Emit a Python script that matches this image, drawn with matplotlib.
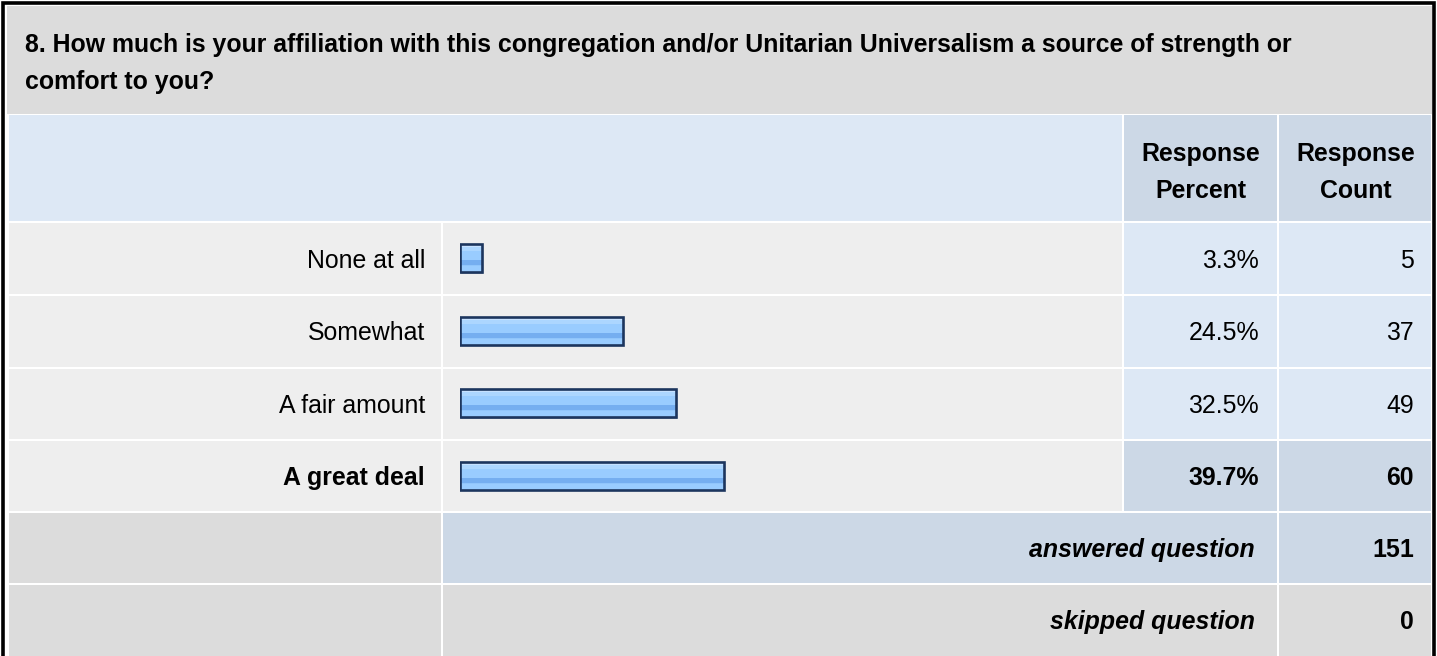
import numpy as np
import matplotlib.pyplot as plt
from matplotlib.patches import Rectangle
from matplotlib.colors import to_rgb

plt.rcParams['font.family'] = ['Liberation Sans', 'DejaVu Sans']

# Данные опроса
question = ('8. How much is your affiliation with this congregation and/or Unitarian Universalism a source of strength or\n'
            'comfort to you?')
categories = ['None at all', 'Somewhat', 'A fair amount', 'A great deal']
percents = [3.3, 24.5, 32.5, 39.7]
counts = [5, 37, 49, 60]
answered = 151
skipped = 0

# Цвета таблицы
GRAY = '#dcdcdc'
ROW_BG = '#eeeeee'
LIGHT_BLUE = '#dde8f5'
MID_BLUE = '#ccd8e6'
BORDER = '#1c355e'

W, H = 1437, 656
fs = 17.9

fig = plt.figure(figsize=(W / 100, H / 100), dpi=100)
fig.patch.set_facecolor('white')
ax = fig.add_axes([0, 0, 1, 1])
ax.set_xlim(0, W)
ax.set_ylim(H, 0)
ax.axis('off')


def cell(x0, y0, x1, y1, color):
    ax.add_patch(Rectangle((x0 + 1, y0 + 1), x1 - x0 - 2, y1 - y0 - 2,
                           facecolor=color, edgecolor='none', zorder=1))


# Колонки и строки таблицы (пиксели)
x_left, x_lab, x_pct, x_cnt, x_right = 8, 442, 1123, 1278, 1432
y_title, y_head, y_rows = 5, 114, [222, 295, 368, 440, 512]
y_ans, y_skip, y_end = 512, 584, 660

# Внешняя рамка
ax.plot([3, 3, W - 3, W - 3], [H + 5, 3, 3, H + 5], color='black', lw=2.6, zorder=5,
        solid_joinstyle='miter')

# Заголовок вопроса
cell(x_left - 2, y_title, x_right + 1, y_head + 1, GRAY)
ax.text(25, 52, question.split('\n')[0], fontsize=fs, fontweight='bold', va='baseline', zorder=3)
ax.text(25, 89, question.split('\n')[1], fontsize=fs, fontweight='bold', va='baseline', zorder=3)

# Шапка
cell(x_left, y_head, x_pct, y_rows[0], LIGHT_BLUE)
cell(x_pct, y_head, x_cnt, y_rows[0], MID_BLUE)
cell(x_cnt, y_head, x_right, y_rows[0], MID_BLUE)
ax.text((x_pct + x_cnt) / 2, 161, 'Response', fontsize=fs, fontweight='bold', ha='center', va='baseline')
ax.text((x_pct + x_cnt) / 2, 198, 'Percent', fontsize=fs, fontweight='bold', ha='center', va='baseline')
ax.text((x_cnt + x_right) / 2 + 1, 161, 'Response', fontsize=fs, fontweight='bold', ha='center', va='baseline')
ax.text((x_cnt + x_right) / 2 + 1, 198, 'Count', fontsize=fs, fontweight='bold', ha='center', va='baseline')

# Строки с ответами
top_idx = int(np.argmax(percents))
for i, (cat, p, c) in enumerate(zip(categories, percents, counts)):
    y0, y1 = y_rows[i], y_rows[i + 1]
    yc = (y0 + y1) / 2
    hl = MID_BLUE if i == top_idx else LIGHT_BLUE
    weight = 'bold' if i == top_idx else 'normal'
    cell(x_left, y0, x_lab, y1, ROW_BG)
    cell(x_lab, y0, x_pct, y1, ROW_BG)
    cell(x_pct, y0, x_cnt, y1, hl)
    cell(x_cnt, y0, x_right, y1, hl)
    ax.text(425, yc + 9, cat, fontsize=fs, ha='right', va='baseline', fontweight=weight)
    ax.text(1259, yc + 9, f'{p:.1f}%', fontsize=fs, ha='right', va='baseline', fontweight=weight)
    ax.text(1414, yc + 9, f'{c}', fontsize=fs, ha='right', va='baseline', fontweight=weight)

# Итоговые строки
cell(x_left, y_ans, x_lab, y_skip, GRAY)
cell(x_lab, y_ans, x_cnt, y_skip, MID_BLUE)
cell(x_cnt, y_ans, x_right, y_skip, MID_BLUE)
cell(x_left, y_skip, x_lab, y_end, GRAY)
cell(x_lab, y_skip, x_cnt, y_end, GRAY)
cell(x_cnt, y_skip, x_right, y_end, GRAY)
for (y0, y1), lab, val in [((y_ans, y_skip), 'answered question', answered),
                           ((y_skip, 656), 'skipped question', skipped)]:
    yc = (y0 + y1) / 2
    ax.text(1255, yc + 9, lab, fontsize=fs, ha='right', va='baseline',
            fontweight='bold', fontstyle='italic')
    ax.text(1414, yc + 9, f'{val}', fontsize=fs, ha='right', va='baseline', fontweight='bold')

# Столбцы: отдельные оси над колонкой с полосами
bx0, bx1 = 460, 1125
bax = fig.add_axes([bx0 / W, (H - y_rows[-1]) / H, (bx1 - bx0) / W, (y_rows[-1] - y_rows[0]) / H])
bax.patch.set_alpha(0)
bax.axis('off')
ypos = np.arange(len(categories))
bar_h = 0.38

# тень
bax.barh(ypos + 0.025, percents, height=bar_h, left=0.15, color='#8b97a8', alpha=0.7, zorder=1)
bars = bax.barh(ypos, percents, height=bar_h, color='none', edgecolor=BORDER, linewidth=1.9, zorder=4)

# градиент внутри столбцов
stops = [(0.0, '#c9e3ff'), (0.08, '#c9e3ff'), (0.09, '#acd6ff'), (0.24, '#acd6ff'),
         (0.25, '#99ccff'), (0.56, '#99ccff'), (0.57, '#75aef0'), (0.76, '#75aef0'),
         (0.77, '#99ccff'), (1.0, '#99ccff')]
t = np.linspace(0, 1, 100)
grad = np.zeros((100, 1, 3))
for k in range(3):
    grad[:, 0, k] = np.interp(t, [s[0] for s in stops], [to_rgb(s[1])[k] for s in stops])
for b in bars:
    x, y, w, h = b.get_x(), b.get_y(), b.get_width(), b.get_height()
    bax.imshow(grad, extent=(x, x + w, y + h, y), aspect='auto', zorder=2, interpolation='nearest')

bax.set_xlim(0, 100)
bax.set_ylim(len(categories) - 0.5, -0.5)

plt.savefig('out.png', dpi=100)
